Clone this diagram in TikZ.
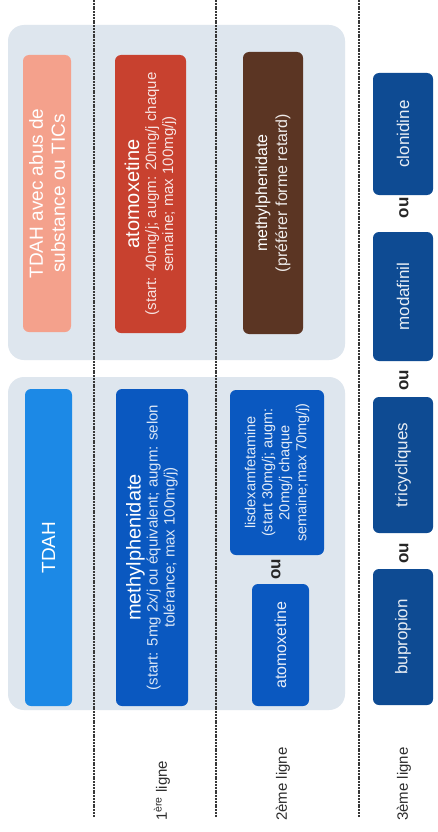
\documentclass[tikz,border=0pt]{standalone}
\usepackage{fontspec}
\setmainfont{Liberation Sans}
\definecolor{panelc}{HTML}{DEE6EE}
\definecolor{salmonc}{HTML}{F4A18C}
\definecolor{tdahc}{HTML}{1C89E6}
\definecolor{redc}{HTML}{C8412F}
\definecolor{bluec}{HTML}{0A58C0}
\definecolor{brownc}{HTML}{5B3523}
\definecolor{navyc}{HTML}{0E4B93}
\begin{document}
\begin{tikzpicture}[x=1pt,y=-1pt,
  box/.style={rectangle, rounded corners=6pt, rotate=90, inner sep=2pt, align=center,
    text=white, font=\fontsize{15}{17}\selectfont},
  oulab/.style={rotate=90, inner sep=1pt, text=black!85, font=\bfseries\fontsize{17}{17}\selectfont},
  sep/.style={draw=black!78, line width=1.5pt, dash pattern=on 2pt off 0.8pt},
  lab/.style={rotate=90, anchor=west, inner sep=0pt, text=black!82, font=\fontsize{15}{17}\selectfont}]
\useasboundingbox (0,0) rectangle (437,832);
\fill[white] (0,0) rectangle (437,832);
% panels
\fill[panelc, rounded corners=16pt] (8,25) rectangle (345,360);
\fill[panelc, rounded corners=16pt] (8,377) rectangle (345,710);
% separators
\coordinate (s1t) at (94,0);  \coordinate (s1b) at (94,817);
\coordinate (s2t) at (216,0); \coordinate (s2b) at (216,817);
\coordinate (s3t) at (359,0); \coordinate (s3b) at (359,817);
\draw[sep] (s1t) -- (s1b);
\draw[sep] (s2t) -- (s2b);
\draw[sep] (s3t) -- (s3b);
% column 1
\node[box, fill=salmonc, minimum width=277pt, minimum height=48pt,
  font=\fontsize{19}{22}\selectfont] (abus) at (47,193.5) {TDAH avec abus de\\substance ou TICs};
\node[box, fill=tdahc, minimum width=317pt, minimum height=47pt,
  font=\fontsize{19}{22}\selectfont] (tdah) at (48.5,547.5) {TDAH};
% column 2
\node[box, fill=redc, minimum width=278pt, minimum height=71pt] (atoA) at (150.5,194)
  {{\fontsize{20}{21}\selectfont atomoxetine}\\
   \textcolor{white!85!redc}{(start: 40mg/j; augm: 20mg/j chaque}\\
   \textcolor{white!85!redc}{semaine; max 100mg/j)}};
\node[box, fill=bluec, minimum width=317pt, minimum height=72pt] (mphA) at (152,547.5)
  {{\fontsize{20}{21}\selectfont methylphenidate}\\
   \textcolor{white!85!bluec}{(start: 5mg 2x/j ou équivalent; augm: selon}\\
   \textcolor{white!85!bluec}{tolérance; max 100mg/j)}};
% column 3
\node[box, fill=brownc, minimum width=282pt, minimum height=60pt,
  font=\fontsize{16}{20}\selectfont] (mphB) at (273,193)
  {methylphenidate\\\textcolor{white!90!brownc}{(préférer forme retard)}};
\node[box, fill=bluec, minimum width=165pt, minimum height=94pt,
  font=\fontsize{14.5}{17}\selectfont, text=white!88!bluec] (lisdex) at (277,472.5)
  {lisdexamfetamine\\(start 30mg/j; augm:\\20mg/j chaque\\semaine;max 70mg/j)};
\node[oulab] (ou1) at (276,569) {ou};
\node[box, fill=bluec, minimum width=122pt, minimum height=57pt,
  font=\fontsize{16}{18}\selectfont, text=white!90!bluec] (atoB) at (280.5,645) {atomoxetine};
% column 4
\node[box, fill=navyc, minimum width=122pt, minimum height=60pt,
  font=\fontsize{17}{18}\selectfont, text=white!90!navyc] (clon) at (403,134) {clonidine};
\node[oulab] (ou2) at (404,208) {ou};
\node[box, fill=navyc, minimum width=129pt, minimum height=60pt,
  font=\fontsize{17}{18}\selectfont, text=white!90!navyc] (moda) at (403,296.5) {modafinil};
\node[oulab] (ou3) at (404,380) {ou};
\node[box, fill=navyc, minimum width=136pt, minimum height=60pt,
  font=\fontsize{17}{18}\selectfont, text=white!90!navyc] (tric) at (403,465) {tricycliques};
\node[oulab] (ou4) at (404,553) {ou};
\node[box, fill=navyc, minimum width=136pt, minimum height=60pt,
  font=\fontsize{17}{18}\selectfont, text=white!90!navyc] (bupr) at (403,637) {bupropion};
% row labels
\node[lab] (l1) at (162,821) {1\textsuperscript{ère} ligne};
\node[lab] (l2) at (283,821) {2ème ligne};
\node[lab] (l3) at (404,821) {3ème ligne};
\end{tikzpicture}
\end{document}
